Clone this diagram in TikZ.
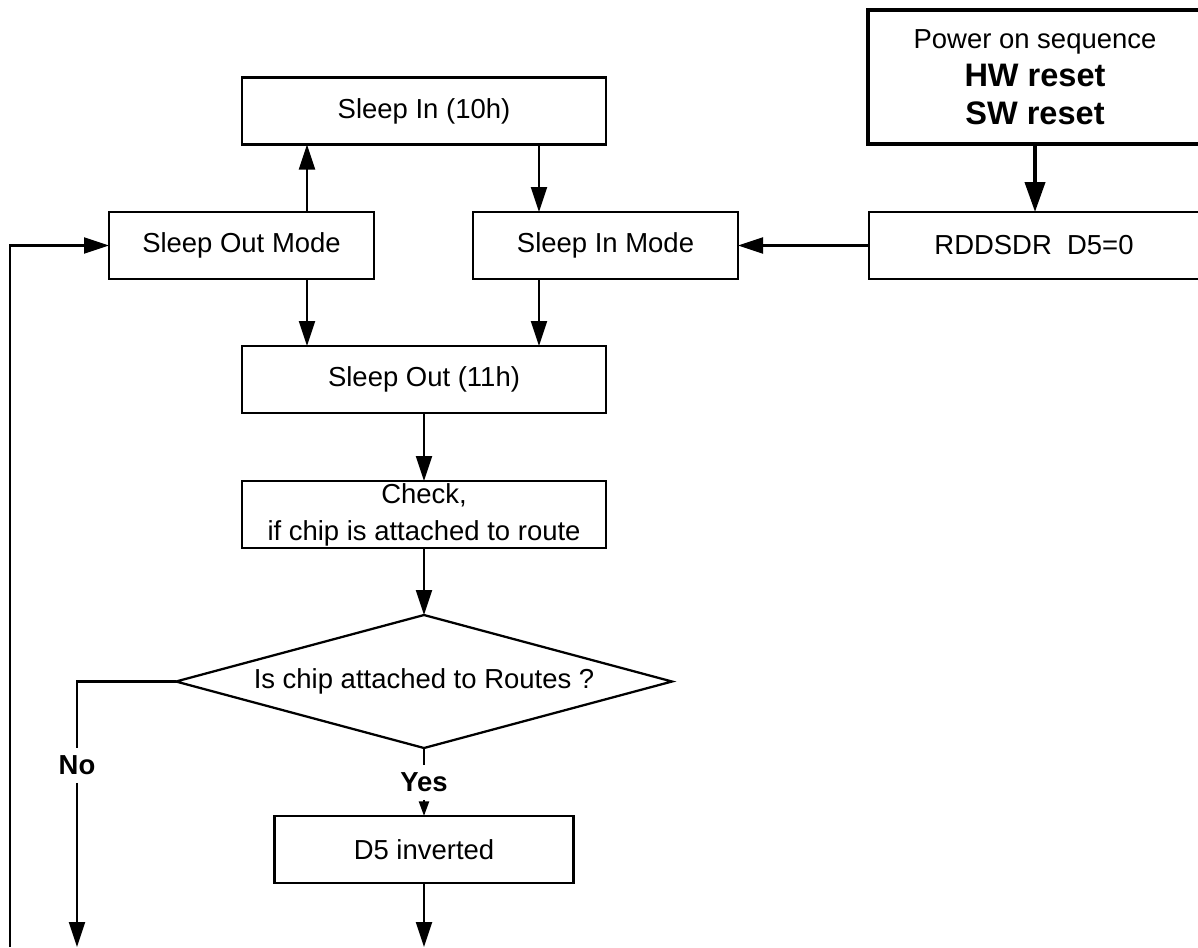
\documentclass[tikz,border=0pt]{standalone}
\usepackage{fontspec}
\setmainfont{Liberation Sans}
\usetikzlibrary{arrows.meta,shapes.geometric}
\begin{document}
\begin{tikzpicture}[x=0.75pt,y=-0.75pt,
  box/.style={draw,line width=1.7pt,inner sep=0pt,outer sep=0pt,
    minimum width=#1,minimum height=50.25pt,
    font=\fontsize{20.6}{27.75}\selectfont,align=center},
  box/.default=198.75pt,
  arr/.style={line width=1.7pt,-{Triangle[length=18.75pt,width=12pt]}},
  arrsmall/.style={line width=1.7pt,-{Triangle[length=11pt,width=7.5pt]}},
  arrthick/.style={line width=3pt,-{Triangle[length=22.5pt,width=15pt]}},
  conn/.style={line width=1.7pt},
  lbl/.style={font=\fontsize{20.6}{24}\selectfont\bfseries,inner xsep=2pt,inner ysep=5.6pt}]
\useasboundingbox (0,0) rectangle (1198,947);
\fill[white] (0,0) rectangle (1198,947);
% nodes
\node[box=273pt] (sin) at (424,111) {Sleep In (10h)};
\node[box] (som) at (241.5,245.5) {Sleep Out Mode};
\node[box] (sim) at (605.5,245.5) {Sleep In Mode};
\node[box=247.5pt] (rdd) at (1034,245.5) {RDDSDR~~D5=0};
\node[draw,line width=3pt,inner sep=0pt,outer sep=0pt,minimum width=250.5pt,
  minimum height=100.5pt,align=center,font=\fontsize{20.6}{28.5}\selectfont]
  (pwr) at (1035,77) {Power on sequence\\{\fontsize{24.4}{28.5}\selectfont\bfseries HW reset}\\{\fontsize{24.4}{28.5}\selectfont\bfseries SW reset}};
\node[box=273pt] (sout) at (424,379.5) {Sleep Out (11h)};
\node[box=273pt] (chk) at (424,514.5) {Check,\\if chip is attached to route};
\node[diamond,draw,line width=1.7pt,aspect=3.73,minimum width=372pt,
  minimum height=99.75pt,inner sep=0pt,outer sep=0pt,
  font=\fontsize{20.6}{27.75}\selectfont] (dia) at (424,681.5) {Is chip attached to Routes ?};
\node[box=224.25pt] (d5) at (424,849.5) {D5 inverted};
\node[lbl] (no) at (77,765.5) {No};
\node[lbl,inner ysep=5.7pt] (yes) at (424,782.5) {Yes};
% helper coordinates
\coordinate (xa) at (307,0);
\coordinate (xb) at (539,0);
\coordinate (fb) at (10,947);
\coordinate (noend) at (77,947);
\coordinate (yesend) at (424,947);
% connectors
\draw[arrthick] (pwr.south) -- (pwr.south |- rdd.north);
\draw[arr] (rdd.west) -- (sim.east);
\draw[arr] (som.north -| xa) -- (sin.south -| xa);
\draw[arr] (sin.south -| xb) -- (sim.north -| xb);
\draw[arr] (som.south -| xa) -- (sout.north -| xa);
\draw[arr] (sim.south -| xb) -- (sout.north -| xb);
\draw[arr] (sout.south) -- (chk.north);
\draw[arr] (chk.south) -- (dia.north);
\draw[conn] (dia.west) -| (no.north);
\draw[arr] (no.south) -- (noend);
\draw[conn] (dia.south) -- (yes.north);
\draw[arrsmall] (yes.south) -- (d5.north);
\draw[arr] (d5.south) -- (yesend);
\draw[arr] (fb) |- (som.west);
\end{tikzpicture}
\end{document}
